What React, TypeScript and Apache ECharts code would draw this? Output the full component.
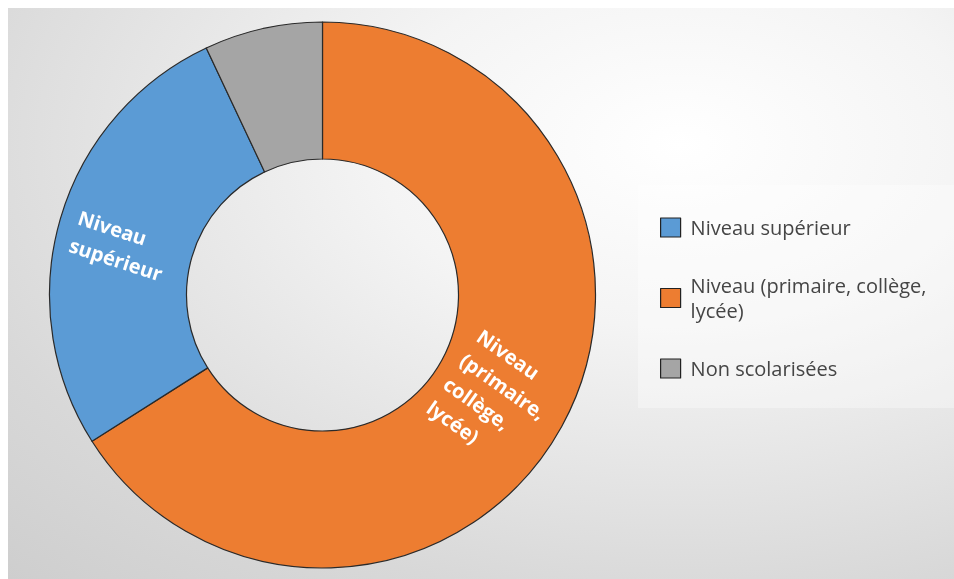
import React, { useEffect, useRef } from 'react';
import * as echarts from 'echarts';

const categories = ['Niveau (primaire, collège, lycée)', 'Niveau supérieur', 'Non scolarisées'];
const values = [66, 27, 7];
const colors = ['#ED7D31', '#5B9BD5', '#A5A5A5'];
const sliceLabels = ['Niveau\n(primaire,\ncollège,\nlycée)', 'Niveau\nsupérieur', ''];
const labelRotations = [-35, -18, 0];
const legendOrder = ['Niveau supérieur', 'Niveau (primaire, collège, lycée)', 'Non scolarisées'];
const legendWrapped: Record<string, string> = {
  'Niveau (primaire, collège, lycée)': 'Niveau (primaire, collège,\nlycée)',
};

export default function App() {
  const ref = useRef<HTMLDivElement>(null);
  useEffect(() => {
    if (!ref.current) return;
    const chart = echarts.init(ref.current, undefined, { renderer: 'svg' });
    const labelShift = [
      { dx: -6, dy: 8 },
      { dx: 0, dy: 9 },
      { dx: 0, dy: 0 },
    ];
    chart.setOption({
      animation: false,
      backgroundColor: {
        type: 'radial',
        x: 0.71,
        y: 0.24,
        r: 1.45,
        colorStops: [
          { offset: 0, color: '#ffffff' },
          { offset: 0.22, color: '#f4f4f4' },
          { offset: 0.55, color: '#d8d8d8' },
          { offset: 1, color: '#bdbdbd' },
        ],
      },
      graphic: [
        {
          type: 'rect',
          left: 630,
          top: 177,
          shape: { width: 316, height: 223 },
          style: { fill: 'rgba(255,255,255,0.35)' },
          silent: true,
        },
      ],
      legend: {
        orient: 'vertical',
        left: 652,
        top: 207,
        padding: 0,
        itemWidth: 20,
        itemHeight: 19,
        itemGap: 33,
        icon: 'rect',
        data: legendOrder,
        formatter: (n: string) => legendWrapped[n] ?? n,
        textStyle: {
          fontFamily: 'Open Sans',
          fontSize: 20,
          lineHeight: 25,
          color: '#454545',
          padding: [0, 0, 0, 5],
        },
        itemStyle: { borderColor: '#222', borderWidth: 1.2 },
      },
      series: [
        {
          type: 'pie',
          center: [314.5, 287],
          radius: [136, 273],
          startAngle: 90,
          clockwise: true,
          silent: true,
          emphasis: { disabled: true },
          itemStyle: { borderColor: '#2a2a2a', borderWidth: 1.2 },
          label: {
            show: true,
            position: 'inside',
            color: '#ffffff',
            fontFamily: 'Open Sans',
            fontWeight: 'bold',
            fontSize: 20,
            lineHeight: 29,
            rich: {
              a: {
                align: 'left',
                color: '#ffffff',
                fontFamily: 'Open Sans',
                fontWeight: 'bold',
                fontSize: 20,
                lineHeight: 29,
              },
            },
          },
          labelLine: { show: false },
          labelLayout: (p: any) => labelShift[p.dataIndex] || {},
          data: categories.map((name, i) => ({
            name,
            value: values[i],
            itemStyle: { color: colors[i] },
            label: {
              show: sliceLabels[i] !== '',
              rotate: labelRotations[i],
              formatter: sliceLabels[i]
                .split('\n')
                .map((l) => `{a|${l}}`)
                .join('\n'),
            },
          })),
        },
      ],
    });
    return () => chart.dispose();
  }, []);
  return (
    <div
      ref={ref}
      style={{ position: 'fixed', left: 8, top: 8, width: 946, height: 571 }}
    />
  );
}
